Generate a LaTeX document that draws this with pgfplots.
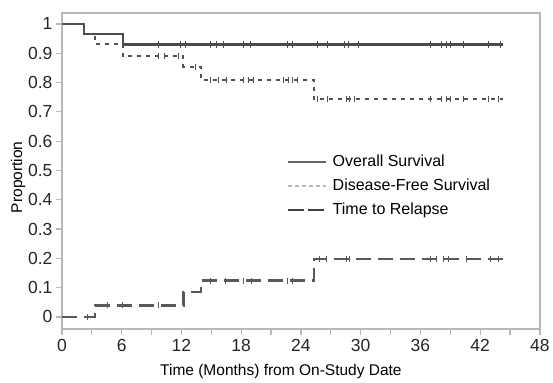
\documentclass[border=0pt]{standalone}
\usepackage{pgfplots}
\pgfplotsset{compat=1.18}
\usepackage{fontspec}
\setmainfont{Liberation Sans}
\definecolor{axgray}{gray}{0.72}
\definecolor{lineos}{gray}{0.30}
\definecolor{linedfs}{gray}{0.32}
\definecolor{linettr}{gray}{0.35}
\begin{document}
\begin{tikzpicture}
\begin{axis}[
  scale only axis, width=478pt, height=316pt,
  xmin=0, xmax=48, ymin=-0.041, ymax=1.0375,
  clip=false,
  axis line style={axgray, line width=1.6pt},
  every tick/.style={axgray, line width=1.2pt},
  tick align=outside, major tick length=6pt,
  xtick={0,3,...,48},
  xticklabels={0,,6,,12,,18,,24,,30,,36,,42,,48},
  ytick={0,0.1,...,1.0},
  yticklabels={0,0.1,0.2,0.3,0.4,0.5,0.6,0.7,0.8,0.9,1},
  xtick pos=bottom, ytick pos=left,
  tick label style={font=\fontsize{17.5}{19}\selectfont, text=black!85},
  xticklabel style={yshift=-1pt},
  xlabel={Time (Months) from On-Study Date},
  ylabel={Proportion},
  label style={font=\fontsize{15.5}{17}\selectfont},
  xlabel style={at={(rel axis cs:0.458,0)}, anchor=center, yshift=-43pt},
  ylabel style={at={(rel axis cs:-0.092,0.48)}, anchor=center},
  legend style={at={(axis cs:22.6,0.556)}, anchor=north west, draw=none, fill=none,
    font=\fontsize{16}{18}\selectfont, row sep=9pt, inner sep=0pt,
    nodes={inner sep=1pt}},
  legend cell align=left,
]
\path (rel axis cs:-0.1297,-0.1677) rectangle (rel axis cs:1.027,1.041);

% legend images
\addlegendimage{legend image code/.code={\draw[gray!80!black, line width=2pt] (0pt,0pt) -- (38pt,0pt);}}
\addlegendentry{\hspace{4pt}Overall Survival}
\addlegendimage{legend image code/.code={\draw[gray!55, line width=2.5pt, dash pattern=on 4pt off 3pt] (0pt,0pt) -- (38pt,0pt);}}
\addlegendentry{\hspace{4pt}Disease-Free Survival}
\addlegendimage{legend image code/.code={\draw[black!75, line width=2.5pt, dash pattern=on 16pt off 4pt] (0pt,0pt) -- (38pt,0pt);}}
\addlegendentry{\hspace{4pt}Time to Relapse}

% Overall survival
\addplot[const plot, lineos, line width=2.2pt, forget plot] coordinates {
(0,1) (2.2,0.967) (6.1,0.93) (44.3,0.93)};
\addplot[only marks, mark=|, mark size=3.5pt, lineos, mark options={line width=1pt}, forget plot] coordinates {
(9.7,0.93) (11.9,0.93) (12.4,0.93) (14.9,0.93) (15.5,0.93) (16.2,0.93) (18.2,0.93) (18.9,0.93)
(22.6,0.93) (23.1,0.93) (25.7,0.93) (26.7,0.93) (28.4,0.93) (28.8,0.93) (29.8,0.93)
(37.0,0.93) (38.1,0.93) (38.6,0.93) (39.0,0.93) (40.3,0.93) (42.8,0.93) (44.0,0.93)};

% Disease-free survival
\addplot[const plot, linedfs, line width=2pt, dash pattern=on 4pt off 5pt, forget plot] coordinates {
(0,1) (2.2,0.967) (3.3,0.933) (6.1,0.889) (12.2,0.852) (14.0,0.809) (25.3,0.743) (44.3,0.743)};
\addplot[only marks, mark=|, mark size=3pt, linedfs, mark options={line width=1pt}, forget plot] coordinates {
(9.7,0.889) (10.3,0.889) (11.7,0.889)
(13.4,0.852)
(14.9,0.809) (15.7,0.809) (16.5,0.809) (18.2,0.809) (18.7,0.809) (19.2,0.809)
(22.2,0.809) (22.7,0.809) (23.1,0.809) (23.7,0.809)
(25.7,0.743) (26.7,0.743) (28.6,0.743) (28.9,0.743) (29.4,0.743)
(37.0,0.743) (38.1,0.743) (38.6,0.743) (39.0,0.743) (40.3,0.743) (42.8,0.743) (43.8,0.743)};

% Time to relapse
\addplot[const plot, linettr, line width=2.2pt, dash pattern=on 15pt off 7pt, forget plot] coordinates {
(0,0) (3.3,0.039) (12.2,0.084) (14.0,0.124) (25.3,0.197) (44.3,0.197)};
\addplot[only marks, mark=|, mark size=3pt, linettr, mark options={line width=1pt}, forget plot] coordinates {
(2.6,0) (4.6,0.039) (6.1,0.039) (9.7,0.039)
(14.9,0.124) (16.4,0.124) (18.2,0.124) (19.0,0.124) (22.6,0.124) (23.1,0.124)
(25.9,0.197) (26.6,0.197) (28.6,0.197) (28.9,0.197)
(37.0,0.197) (37.6,0.197) (38.3,0.197) (38.8,0.197) (40.6,0.197) (43.0,0.197) (43.8,0.197)};
\end{axis}
\end{tikzpicture}
\end{document}
